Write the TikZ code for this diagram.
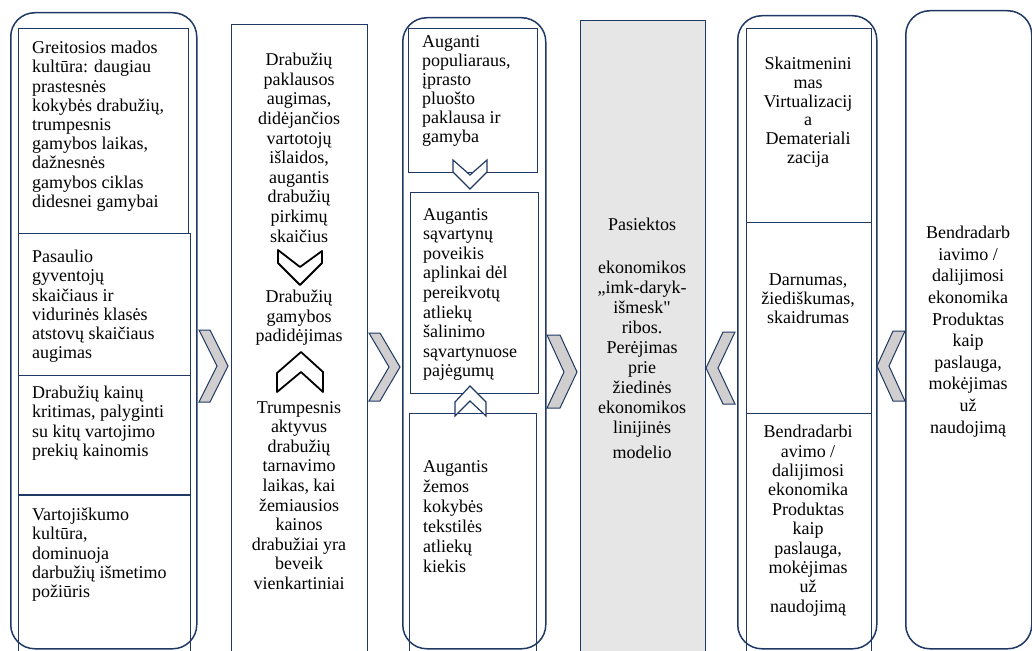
\documentclass[tikz,border=0pt]{standalone}
\usepackage{fontspec}
\setmainfont{Liberation Serif}
\newfontfamily\plainserif{Liberation Serif}[Ligatures=TeXOff]
\definecolor{navy}{RGB}{32,56,100}
\definecolor{chevfill}{RGB}{208,206,206}
\definecolor{panel}{RGB}{231,230,230}

\begin{document}
\begin{tikzpicture}[col/.style={draw=navy, line width=1.5pt, rounded corners=24pt, anchor=north west, inner sep=0pt}, box/.style={draw=navy, line width=1pt, anchor=north west, inner sep=0pt}, chev/.style={draw=navy, line width=1pt, fill=chevfill}, tip/.style={draw=navy, line width=1.2pt, fill=white}, hand/.style={draw=black, line width=1.8pt, line join=round}, lt/.style={font=\fontsize{18}{19.2}\selectfont, inner sep=0pt, align=left, anchor=north west}, ct/.style={font=\fontsize{18}{19.6}\selectfont, inner sep=0pt, align=center, anchor=north}]
	\useasboundingbox (0pt, 0pt) rectangle (1032pt, -650pt);
	\draw (10pt, -12pt)node[col, minimum width=186pt, minimum height=636pt](k1){};
	\draw (18pt, -28pt)node[box, minimum width=170pt, minimum height=205pt](g1){};
	\draw (18pt, -233pt)node[box, minimum width=172pt, minimum height=142pt](g2){};
	\draw (18pt, -375pt)node[box, minimum width=172pt, minimum height=119pt](g3){};
	\draw (18pt, -495pt)node[box, minimum width=172pt, minimum height=170pt](g4){};
	\draw (32pt, -41pt)node[lt](t1){Greitosios mados\\kultūra: daugiau\\prastesnės\\kokybės drabužių,\\trumpesnis\\gamybos laikas,\\dažnesnės\\gamybos ciklas\\didesnei gamybai};
	\draw (32pt, -250pt)node[lt](t2){Pasaulio\\gyventojų\\skaičiaus ir\\vidurinės klasės\\atstovų skaičiaus\\augimas};
	\draw (32pt, -386pt)node[lt](t3){Drabužių kainų\\kritimas, palyginti\\su kitų vartojimo\\prekių kainomis};
	\draw (32pt, -508pt)node[lt](t4){Vartojiškumo\\kultūra,\\dominuoja\\darbužių išmetimo\\požiūris};
	\draw (231pt, -24pt)node[box, minimum width=136pt, minimum height=640pt](k2){};
	\draw (299pt, -53pt)node[ct](u1){Drabužių\\paklausos\\augimas,\\didėjančios\\vartotojų\\išlaidos,\\augantis\\drabužių\\pirkimų\\skaičius};
	\draw (299pt, -290pt)node[ct](u2){Drabužių\\gamybos\\padidėjimas};
	\draw (299pt, -401pt)node[ct](u3){Trumpesnis\\aktyvus\\drabužių\\tarnavimo\\laikas, kai\\žemiausios\\kainos\\drabužiai yra\\beveik\\vienkartiniai};
	\draw[hand] (278pt, -250pt) -- (300pt, -267pt) -- (322pt, -251pt) -- (322pt, -263pt) -- (300pt, -285pt) -- (278pt, -263pt) -- cycle;
	\draw[hand] (277pt, -392pt) -- (277pt, -373pt) -- (301pt, -352pt) -- (323pt, -372pt) -- (323pt, -392pt) -- (301pt, -372pt) -- cycle;
	\draw (402pt, -17pt)node[col, minimum width=143pt, minimum height=631pt](k3){};
	\draw (408pt, -28pt)node[box, minimum width=129pt, minimum height=144pt](a1){};
	\draw (410pt, -192pt)node[box, minimum width=128pt, minimum height=201pt](a2){};
	\draw (409pt, -413pt)node[box, minimum width=127pt, minimum height=250pt](a3){};
	\draw (422pt, -35pt)node[lt, font=\fontsize{18}{19}\selectfont](v1){Auganti\\populiaraus,\\įprasto\\pluošto\\paklausa ir\\gamyba};
	\draw (423pt, -208pt)node[lt, font=\fontsize{18}{19.6}\selectfont](v2){Augantis\\sąvartynų\\poveikis\\aplinkai dėl\\pereikvotų\\atliekų\\šalinimo\\sąvartynuose\\pajėgumų};
	\draw (423pt, -460pt)node[lt, font=\fontsize{18}{20}\selectfont](v3){Augantis\\žemos\\kokybės\\tekstilės\\atliekų\\kiekis};
	\draw[tip] (453pt, -160pt) -- (470pt, -175pt) -- (487pt, -160pt) -- (487pt, -172pt) -- (470pt, -189pt) -- (453pt, -172pt) -- cycle;
	\draw[tip] (455pt, -416pt) -- (455pt, -402pt) -- (470pt, -386pt) -- (486pt, -402pt) -- (486pt, -416pt) -- (470pt, -401pt) -- cycle;
	\draw (580pt, -20pt)node[box, fill=panel, minimum width=125pt, minimum height=640pt](k4){};
	\draw (642pt, -218pt)node[ct, font=\fontsize{18}{20}\selectfont](w1){Pasiektos\\[23pt]ekonomikos\\,,imk-daryk-\\išmesk{\plainserif"}\\ribos.\\Perėjimas\\prie\\žiedinės\\ekonomikos\\linijinės\\[5pt]modelio};
	\draw (737pt, -15pt)node[col, minimum width=139pt, minimum height=633pt](k5){};
	\draw (746pt, -28pt)node[box, minimum width=125pt, minimum height=194pt](s1){};
	\draw (746pt, -222pt)node[box, minimum width=125pt, minimum height=191pt](s2){};
	\draw (746pt, -413pt)node[box, minimum width=125pt, minimum height=250pt](s3){};
	\draw (808pt, -57pt)node[ct, font=\fontsize{18}{18.7}\selectfont](x1){Skaitmenini\\mas\\Virtualizacij\\a\\Demateriali\\zacija};
	\draw (808pt, -274pt)node[ct, font=\fontsize{18}{19}\selectfont](x2){Darnumas,\\žiediškumas,\\skaidrumas};
	\draw (808pt, -425pt)node[ct, font=\fontsize{18}{19.4}\selectfont](x3){Bendradarbi\\avimo /\\dalijimosi\\ekonomika\\Produktas\\kaip\\paslauga,\\mokėjimas\\už\\naudojimą};
	\draw (905pt, -10pt)node[col, minimum width=126pt, minimum height=638pt](k6){};
	\draw (968pt, -226pt)node[ct, font=\fontsize{18}{21.6}\selectfont](y1){Bendradarb\\iavimo /\\dalijimosi\\ekonomika\\Produktas\\kaip\\paslauga,\\mokėjimas\\už\\naudojimą};
	\draw[chev] (199pt, -330pt) -- (210pt, -330pt) -- (228pt, -366pt) -- (210pt, -402pt) -- (199pt, -402pt) -- (217pt, -366pt) -- cycle;
	\draw[chev] (369pt, -333pt) -- (380pt, -333pt) -- (400pt, -367pt) -- (380pt, -401pt) -- (369pt, -401pt) -- (389pt, -367pt) -- cycle;
	\draw[chev] (547pt, -335pt) -- (560pt, -335pt) -- (577pt, -372pt) -- (560pt, -408pt) -- (547pt, -408pt) -- (564pt, -372pt) -- cycle;
	\draw[chev] (735pt, -332pt) -- (723pt, -332pt) -- (706pt, -368pt) -- (723pt, -404pt) -- (735pt, -404pt) -- (718pt, -368pt) -- cycle;
	\draw[chev] (905pt, -331pt) -- (893pt, -331pt) -- (877pt, -366pt) -- (893pt, -401pt) -- (905pt, -401pt) -- (889pt, -366pt) -- cycle;
\end{tikzpicture}
\end{document}
